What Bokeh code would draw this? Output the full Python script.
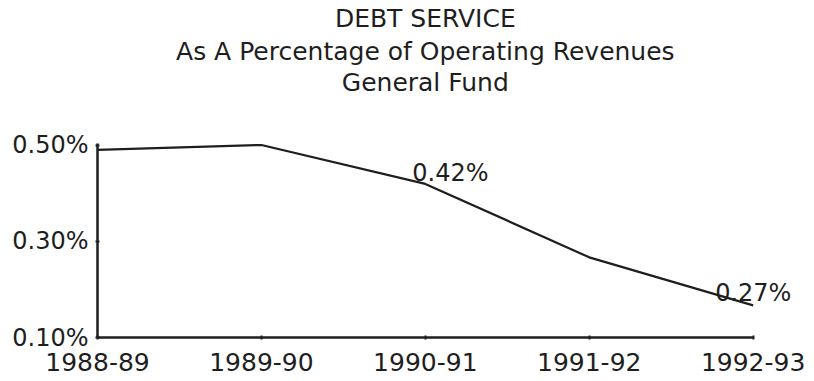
from bokeh.plotting import figure
from bokeh.models import Range1d, FixedTicker, Label, ColumnDataSource
from bokeh.embed import file_html
from bokeh.resources import INLINE

years = ["1988-89", "1989-90", "1990-91", "1991-92", "1992-93"]
debt_pct = [0.491, 0.501, 0.42, 0.267, 0.167]
point_labels = ["", "", "0.42%", "", "0.27%"]
y_ticks = [0.10, 0.30, 0.50]
y_tick_labels = ["0.10%", "0.30%", "0.50%"]
title_lines = ["DEBT SERVICE", "As A Percentage of Operating Revenues", "General Fund"]

FONT = "DejaVu Sans"
INK = "#1e1e1e"

xs = list(range(len(years)))
src = ColumnDataSource(dict(x=xs, y=debt_pct))

# frame spans the canvas height; the axes are bounded to the data area
Y_LO, Y_AX_TOP, Y_TOP = 0.10, 0.504, 0.802
p = figure(width=810, height=377, output_backend="svg", toolbar_location=None,
           x_range=Range1d(0, len(years) - 1 + 0.35), y_range=Range1d(Y_LO, Y_TOP),
           min_border_left=97, min_border_right=0, min_border_top=0, min_border_bottom=40)
p.outline_line_color = None
p.xgrid.visible = False
p.ygrid.visible = False
p.background_fill_color = "white"
p.border_fill_color = "white"

p.line("x", "y", source=src, line_color=INK, line_width=2.2)

# title lines, centred over the category span
title_y = [0.7645, 0.6950, 0.6320]
x_mid = (xs[0] + xs[-1]) / 2
for t, ty in zip(title_lines, title_y):
    p.add_layout(Label(x=x_mid, y=ty, text=t, text_align="center", text_baseline="alphabetic",
                       text_font=FONT, text_font_size="25px", text_color=INK))

# value labels
offsets = {2: (-13, 11), 4: (-38, 12)}
for i, lab in enumerate(point_labels):
    if lab:
        dx, dy = offsets[i]
        p.add_layout(Label(x=xs[i], y=debt_pct[i], text=lab, x_offset=dx, y_offset=dy,
                           text_font=FONT, text_font_size="24px", text_color=INK,
                           text_baseline="alphabetic", text_align="left"))

for ax in (p.xaxis[0], p.yaxis[0]):
    ax.axis_line_color = INK
    ax.axis_line_width = 2.5
    ax.major_tick_line_color = INK
    ax.major_tick_line_width = 2
    ax.major_tick_in = 2
    ax.major_tick_out = 2
    ax.minor_tick_line_color = None
    ax.major_label_text_font = FONT
    ax.major_label_text_color = INK

p.xaxis.bounds = (xs[0], xs[-1])
p.xaxis.ticker = FixedTicker(ticks=xs)
p.xaxis.major_label_overrides = {i: y for i, y in zip(xs, years)}
p.xaxis.major_label_standoff = 13
p.xaxis.major_label_text_font_size = "25px"
p.yaxis.bounds = (Y_LO, Y_AX_TOP)
p.yaxis.ticker = FixedTicker(ticks=y_ticks)
p.yaxis.major_label_overrides = {t: l for t, l in zip(y_ticks, y_tick_labels)}
p.yaxis.major_label_standoff = 7
p.yaxis.major_label_text_font_size = "24px"

open("out.html", "w").write(file_html(p, INLINE))
